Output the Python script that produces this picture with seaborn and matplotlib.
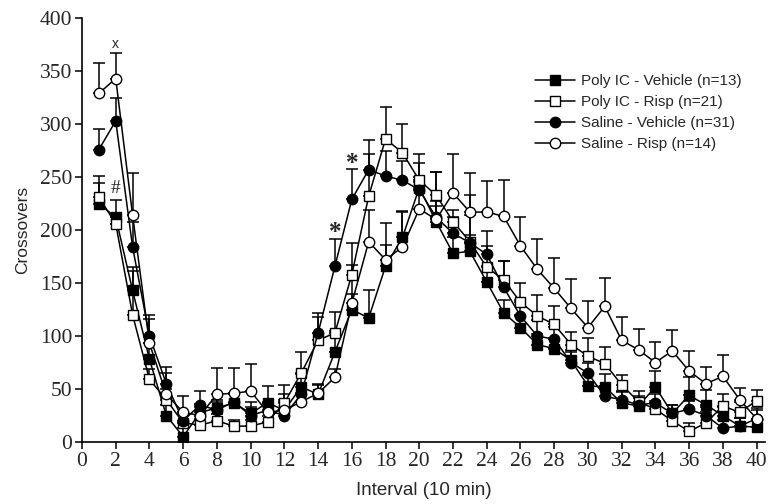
import matplotlib
matplotlib.use("Agg")
import matplotlib.pyplot as plt
import numpy as np
import pandas as pd
import seaborn as sns

# Interval numbers (10 min bins)
intervals = list(range(1, 41))

# Group labels
groups = [
    "Poly IC - Vehicle (n=13)",
    "Poly IC - Risp (n=21)",
    "Saline - Vehicle (n=31)",
    "Saline - Risp (n=14)",
]

# Mean crossovers per interval
poly_vehicle = [225, 212, 143, 78, 25, 5, 28, 32, 37, 27, 37, 30, 52, 45, 85, 125, 117, 166, 193, 240,
                208, 178, 180, 151, 122, 108, 92, 88, 77, 53, 52, 37, 34, 52, 27, 44, 35, 25, 15, 14]
poly_risp = [231, 206, 120, 59, 40, 18, 16, 20, 15, 15, 19, 37, 65, 96, 103, 158, 232, 286, 273, 247,
             233, 208, 189, 165, 153, 132, 119, 111, 92, 81, 74, 54, 38, 31, 20, 10, 18, 34, 28, 39]
saline_vehicle = [276, 303, 184, 100, 55, 20, 35, 30, 38, 25, 30, 25, 45, 103, 166, 229, 257, 251, 247, 238,
                  212, 197, 188, 177, 146, 119, 100, 97, 75, 65, 43, 40, 35, 37, 27, 31, 25, 13, 15, 22]
saline_risp = [329, 343, 214, 93, 45, 28, 25, 45, 46, 48, 28, 30, 38, 46, 61, 131, 189, 172, 184, 220,
               210, 235, 217, 217, 213, 185, 163, 145, 126, 108, 128, 96, 87, 75, 86, 67, 55, 62, 40, 22]

# SEM (upper bars only)
poly_vehicle_err = [19, 16, 18, 15, 10, 8, 8, 8, 8, 11, 16, 10, 12, 10, 20, 15, 26, 20, 25, 23,
                    15, 15, 15, 15, 12, 12, 10, 10, 10, 10, 12, 10, 8, 15, 8, 17, 14, 8, 8, 8]
poly_risp_err = [20, 8, 45, 10, 10, 8, 6, 6, 6, 6, 6, 17, 20, 22, 20, 30, 40, 30, 27, 25,
                 22, 11, 25, 20, 18, 18, 20, 17, 12, 17, 16, 9, 10, 8, 8, 8, 10, 11, 10, 10]
saline_vehicle_err = [19, 22, 24, 20, 16, 8, 13, 8, 8, 8, 8, 20, 10, 19, 26, 29, 28, 24, 18, 12,
                      15, 15, 45, 22, 25, 15, 15, 12, 10, 10, 10, 8, 8, 8, 8, 8, 8, 8, 8, 8]
saline_risp_err = [29, 24, 40, 23, 20, 15, 8, 25, 24, 26, 8, 8, 8, 8, 8, 36, 30, 35, 33, 25,
                   45, 37, 37, 29, 34, 27, 29, 29, 28, 25, 27, 22, 20, 19, 20, 19, 16, 20, 11, 10]

# Long-form table for seaborn
df = pd.concat([
    pd.DataFrame({"interval": intervals, "crossovers": v, "err": e, "group": g})
    for g, v, e in zip(
        groups,
        [poly_vehicle, poly_risp, saline_vehicle, saline_risp],
        [poly_vehicle_err, poly_risp_err, saline_vehicle_err, saline_risp_err],
    )
])

sns.set_theme(style="ticks")
plt.rcParams["font.family"] = ["Liberation Serif", "DejaVu Serif"]

fig = plt.figure(figsize=(7.7, 5.04), dpi=100)
ax = fig.add_axes([0.1065, 0.123, 0.887, 0.841])

markers = {groups[0]: "s", groups[1]: "s", groups[2]: "o", groups[3]: "o"}
faces = {groups[0]: "black", groups[1]: "white", groups[2]: "black", groups[3]: "white"}

for g in groups:
    sub = df[df["group"] == g]
    # upward error bars behind the markers
    ax.errorbar(sub["interval"], sub["crossovers"],
                yerr=[np.zeros(len(sub)), sub["err"]],
                fmt="none", ecolor="black", elinewidth=1.1, capsize=4, capthick=1.1, zorder=1)
    sns.lineplot(data=sub, x="interval", y="crossovers", ax=ax, color="black",
                 marker=markers[g], markersize=7.5, markerfacecolor=faces[g],
                 markeredgecolor="black", markeredgewidth=1.0, linewidth=1.1,
                 label=g, zorder=3)

# significance marks
ax.text(2, 376, "x", ha="center", va="center", fontsize=10, family="Liberation Sans")
ax.text(2, 239, "#", ha="center", va="center", fontsize=14)
ax.text(15, 198, "*", ha="center", va="center", fontsize=18, fontweight="bold")
ax.text(16, 263, "*", ha="center", va="center", fontsize=18, fontweight="bold")

ax.set_xlim(0, 40.5)
ax.set_ylim(0, 400)
ax.set_xticks(range(0, 41, 2))
ax.set_yticks(range(0, 401, 50))
ax.tick_params(labelsize=15.5, length=5, width=1.1, direction="out", color="black", pad=2)
for s in ["left", "bottom"]:
    ax.spines[s].set_linewidth(1.2)
    ax.spines[s].set_color("black")
sns.despine(ax=ax)

ax.set_xlabel("Interval (10 min)", fontsize=13.5, family="Liberation Sans", labelpad=8)
ax.set_ylabel("Crossovers", fontsize=12.5, family="Liberation Sans", labelpad=7)

leg = ax.legend(loc="upper left", bbox_to_anchor=(0.643, 0.9), frameon=False,
                handlelength=2.6, handletextpad=0.4, labelspacing=0.45,
                prop={"family": "Liberation Sans", "size": 11})

fig.savefig("out.png", dpi=100)
